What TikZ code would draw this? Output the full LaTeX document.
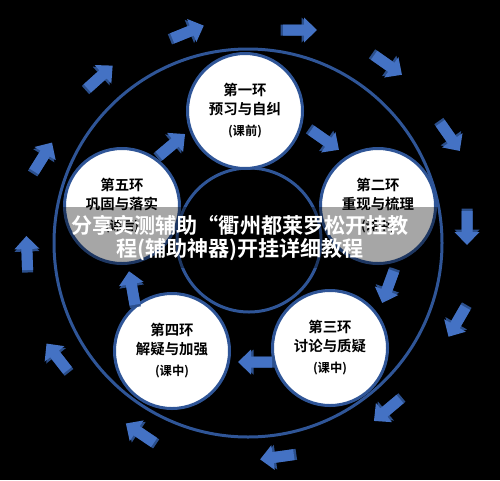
\documentclass[tikz,border=0pt]{standalone}
\usepackage{fontspec}
\setmainfont{Noto Sans CJK SC}[BoldFont={Noto Sans CJK SC Bold}]
\definecolor{ringblue}{HTML}{2F5597}
\definecolor{arrblue}{HTML}{4472C4}
\definecolor{arrdark}{HTML}{2B4F8C}
\tikzset{
  blkarrow/.pic={
    \fill[arrdark] (-19.5,-5.5) -- (1.5,-5.5) -- (1.5,-12.5) -- (14.5,0) -- (1.5,12.5) -- (1.5,5.5) -- (-19.5,5.5) -- cycle;
    \fill[arrblue] (-17,-5.5) -- (4,-5.5) -- (4,-12.5) -- (17,0) -- (4,12.5) -- (4,5.5) -- (-17,5.5) -- cycle;
  },
  stagecircle/.style={circle, fill=white, draw=ringblue, line width=1.5mm,
    minimum size=57.5mm, inner sep=0pt, align=center, text=black,
    font=\bfseries\fontsize{20.5}{27}\selectfont},
  ringline/.style={draw=ringblue, line width=1.5mm},
  bannertext/.style={text=white, font=\bfseries\fontsize{30}{36}\selectfont, inner sep=0pt}
}
\newcommand{\smalltag}[1]{{\fontsize{17.5}{20}\selectfont #1}}
\begin{document}
\begin{tikzpicture}[x=0.5mm,y=-0.5mm]
\fill[black] (0,0) rectangle (500,480);
\useasboundingbox (0,0) rectangle (500,480);
\coordinate (O) at (248,243);
\coordinate (Oi) at (249,240);
\draw[ringline] (O) circle[radius=194];
\draw[ringline] (Oi) circle[radius=72];
% outer arrows
\pic[rotate=22]  at (188,32)  {blkarrow};
\pic[rotate=0]   at (300,30)  {blkarrow};
\pic[rotate=-35] at (388,65)  {blkarrow};
\pic[rotate=-55] at (450,137) {blkarrow};
\pic[rotate=-90] at (467,228) {blkarrow};
\pic[rotate=-120] at (457,322) {blkarrow};
\pic[rotate=-140] at (387,410) {blkarrow};
\pic[rotate=188] at (277,457) {blkarrow};
\pic[rotate=146] at (140,433) {blkarrow};
\pic[rotate=128] at (57,357)  {blkarrow};
\pic[rotate=92]  at (27,253)  {blkarrow};
\pic[rotate=58]  at (43,157)  {blkarrow};
\pic[rotate=42]  at (100,77)  {blkarrow};
% stage circles
\node[stagecircle] (c1) at (245,111) {第一环\\预习与自纠\\[3pt]\smalltag{(课前)}};
\node[stagecircle] (c2) at (378,206) {第二环\\重现与梳理\\[3pt]\smalltag{(课中)}};
\node[stagecircle] (c3) at (330,348) {第三环\\讨论与质疑\\[3pt]\smalltag{(课中)}};
\node[stagecircle] (c4) at (172,351) {第四环\\解疑与加强\\[3pt]\smalltag{(课中)}};
\node[stagecircle] (c5) at (122,206) {第五环\\巩固与落实\\[3pt]\smalltag{(课后)}};
% inner arrows
\pic[rotate=40]   at (172,145) {blkarrow};
\pic[rotate=-35]  at (325,140) {blkarrow};
\pic[rotate=-110] at (388,287) {blkarrow};
\pic[rotate=180]  at (255,362) {blkarrow};
\pic[rotate=100]  at (132,288) {blkarrow};
% banner
\fill[black, opacity=0.35] (62,207) rectangle (438,268);
\node[bannertext] (b1) at (240,225) {分享实测辅助“衢州都莱罗松开挂教};
\node[bannertext] (b2) at (240,250) {程(辅助神器)开挂详细教程};
\end{tikzpicture}
\end{document}
